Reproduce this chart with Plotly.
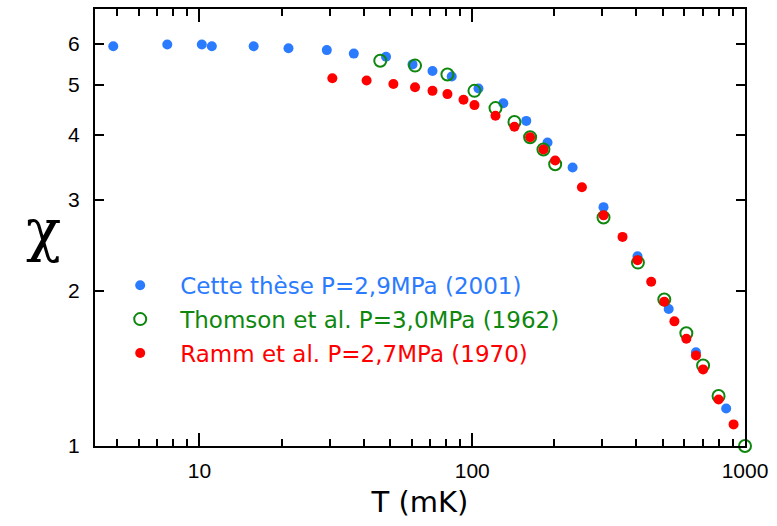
import plotly.graph_objects as go

# Data (T in mK, chi)
blue_T = [4.83, 7.62, 10.2, 11.1, 15.8, 21.2, 29.3, 36.8, 48.3, 60.4, 71.5, 84.1,
          105.4, 130, 157.8, 188.8, 233.3, 302.9, 403.6, 525, 661, 853]
blue_chi = [5.94, 5.99, 5.99, 5.94, 5.94, 5.89, 5.84, 5.75, 5.67, 5.48, 5.32, 5.19,
            4.92, 4.61, 4.26, 3.87, 3.46, 2.90, 2.33, 1.842, 1.519, 1.182]

green_T = [46.0, 61.7, 81.1, 101.9, 121.7, 142.8, 163, 182.4, 201.4, 302.9,
           405, 506, 609.5, 702, 800, 1000]
green_chi = [5.57, 5.45, 5.24, 4.87, 4.51, 4.24, 3.96, 3.75, 3.51, 2.77,
             2.265, 1.922, 1.653, 1.432, 1.250, 1.0]

red_T = [30.7, 41.0, 51.4, 61.7, 71.5, 81.1, 92.9, 101.9, 121.7, 142.8, 163, 182.4,
         201.4, 252.4, 302.9, 355.6, 403.6, 453, 506, 551, 609.5, 661, 702, 800, 908]
red_chi = [5.15, 5.10, 5.02, 4.95, 4.87, 4.80, 4.68, 4.57, 4.36, 4.15, 3.96, 3.75,
           3.57, 3.17, 2.796, 2.54, 2.29, 2.08, 1.903, 1.743, 1.613, 1.497, 1.407, 1.230, 1.101]

names = ["Cette thèse P=2,9MPa (2001)",
         "Thomson et al. P=3,0MPa (1962)",
         "Ramm et al. P=2,7MPa (1970)"]

BLUE = "#2B7BFF"
GREEN = "#0E870E"
RED = "#FF0000"

y_ticks = [1, 2, 3, 4, 5, 6]
x_ticks = [10, 100, 1000]


def colored(name, color):
    return '<span style="color:%s">%s</span>' % (color, name)


fig = go.Figure()
fig.add_trace(go.Scatter(x=blue_T, y=blue_chi, mode="markers", name=colored(names[0], BLUE),
                         legendgroup="a",
                         marker=dict(color=BLUE, size=10, symbol="circle", line=dict(width=0)),
                         cliponaxis=False))
fig.add_trace(go.Scatter(x=green_T, y=green_chi, mode="markers", name=colored(names[1], GREEN),
                         legendgroup="b",
                         marker=dict(color=GREEN, size=12, symbol="circle-open", line=dict(width=2, color=GREEN)),
                         cliponaxis=False))
fig.add_trace(go.Scatter(x=red_T, y=red_chi, mode="markers", name=colored(names[2], RED),
                         legendgroup="c",
                         marker=dict(color=RED, size=10, symbol="circle", line=dict(width=0)),
                         cliponaxis=False))

fig.update_layout(
    width=777, height=526,
    margin=dict(l=95, r=32, t=7, b=80),
    paper_bgcolor="white", plot_bgcolor="white",
    showlegend=True,
    legend=dict(x=0.008, y=0.29, xanchor="left", yanchor="middle",
                bgcolor="rgba(0,0,0,0)", borderwidth=0,
                itemwidth=70, tracegroupgap=1,
                font=dict(family="DejaVu Sans", size=23)),
    xaxis=dict(type="log", range=[0.617, 3.0],
               tickvals=x_ticks, ticktext=[str(v) for v in x_ticks],
               ticks="inside", ticklen=13, tickwidth=2, tickcolor="black",
               showline=True, linecolor="black", linewidth=2, mirror="ticks",
               showgrid=False, zeroline=False,
               tickfont=dict(family="Liberation Sans", size=21, color="black"),
               ticklabelstandoff=5,
               minor=dict(dtick="D1", ticks="inside", ticklen=7, tickwidth=1.5,
                          tickcolor="black", showgrid=False),
               title=dict(text="T (mK)", standoff=10,
                          font=dict(family="DejaVu Sans", size=29, color="black"))),
    yaxis=dict(type="log", range=[0, 0.846],
               tickvals=y_ticks, ticktext=[str(v) for v in y_ticks],
               ticks="inside", ticklen=9, tickwidth=2, tickcolor="black",
               showline=True, linecolor="black", linewidth=2, mirror="ticks",
               showgrid=False, zeroline=False,
               tickfont=dict(family="Liberation Sans", size=21, color="black"),
               ticklabelstandoff=9),
    annotations=[dict(text="χ", xref="paper", yref="paper", x=-0.0785, y=0.495,
                      xanchor="center", yanchor="middle", showarrow=False,
                      font=dict(family="DejaVu Serif", size=58, color="black"))],
)

fig.write_html("out.html", config={"displayModeBar": False},
               post_script="document.body.style.margin='0px';document.body.style.padding='0px';")
